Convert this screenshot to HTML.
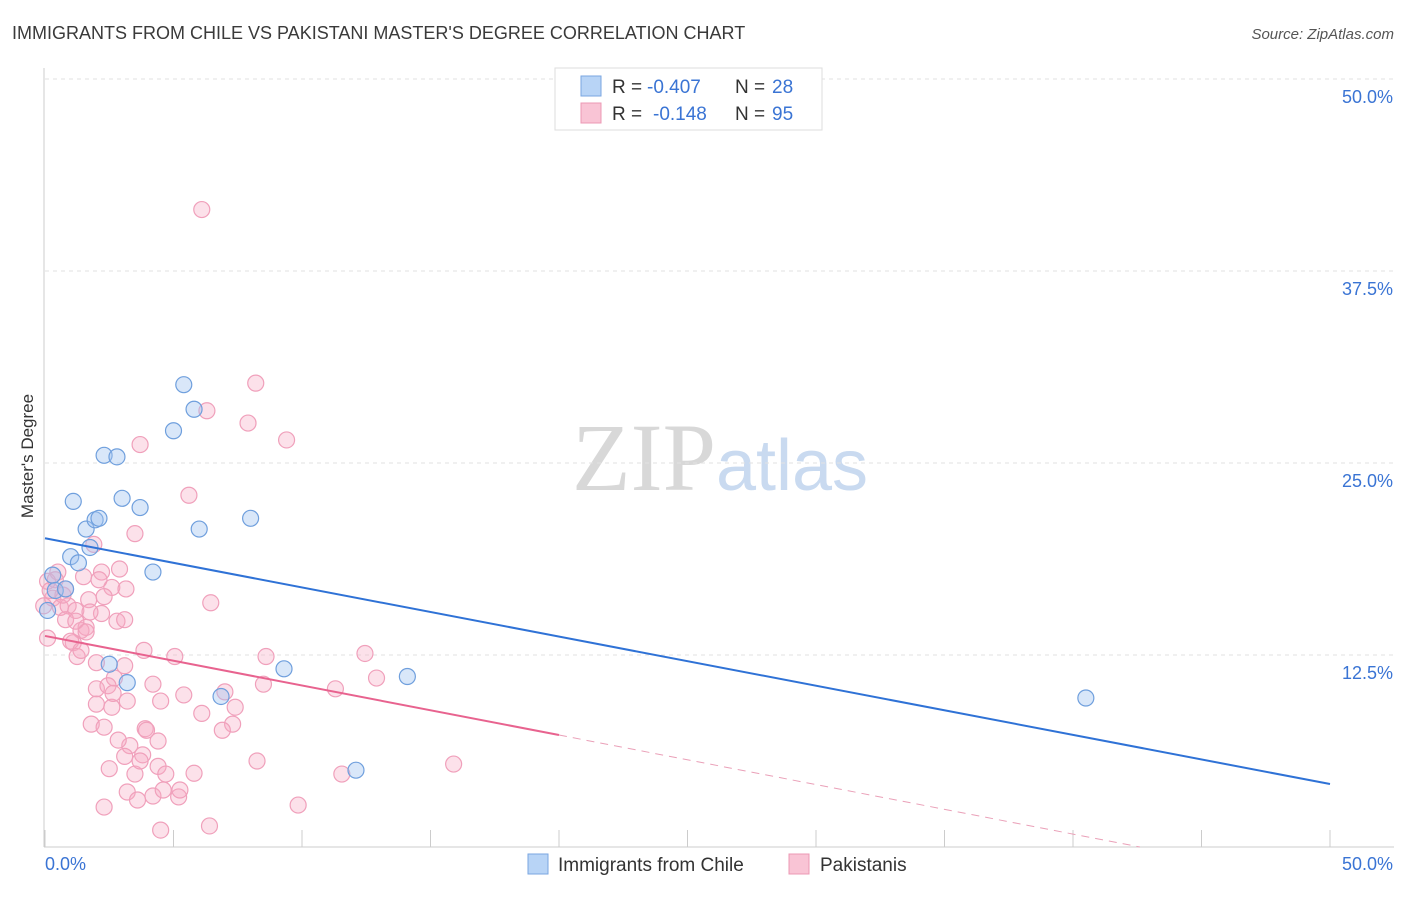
<!DOCTYPE html>
<html><head><meta charset="utf-8">
<style>
body{margin:0;background:#fff;font-family:"Liberation Sans",sans-serif;}
</style></head>
<body>
<svg id="chart" width="1406" height="892" xmlns="http://www.w3.org/2000/svg" style="font-family:'Liberation Sans',sans-serif">
<text x="12" y="39" font-size="18" fill="#3a3a3a">IMMIGRANTS FROM CHILE VS PAKISTANI MASTER'S DEGREE CORRELATION CHART</text>
<text x="1394" y="39" font-size="15" fill="#555" text-anchor="end" font-style="italic">Source: ZipAtlas.com</text>
<text x="720" y="490" font-size="96" text-anchor="middle" fill="#d8d8d8" font-family="Liberation Serif">ZIP<tspan fill="#c9daf0" font-family="Liberation Sans" font-size="72">atlas</tspan></text>
<g id="grid"></g>
<g id="axes"></g>
<g id="marks"></g>
<text transform="translate(33,456) rotate(-90)" font-size="17" fill="#333" text-anchor="middle">Master's Degree</text>
<g>
<rect x="555" y="68" width="267" height="62" fill="#fff" stroke="#ddd"/>
<rect x="581" y="76" width="20" height="20" fill="#b8d4f6" stroke="#7aa6e0"/>
<rect x="581" y="103" width="20" height="20" fill="#f9c4d5" stroke="#ec98b4"/>
<text x="612" y="93" font-size="19" fill="#333">R =</text>
<text x="647" y="93" font-size="19" fill="#3a74d4">-0.407</text>
<text x="735" y="93" font-size="19" fill="#333">N =</text>
<text x="772" y="93" font-size="19" fill="#3a74d4">28</text>
<text x="612" y="120" font-size="19" fill="#333">R =</text>
<text x="653" y="120" font-size="19" fill="#3a74d4">-0.148</text>
<text x="735" y="120" font-size="19" fill="#333">N =</text>
<text x="772" y="120" font-size="19" fill="#3a74d4">95</text>
</g>
<g>
<rect x="528" y="854" width="20" height="20" fill="#b8d4f6" stroke="#7aa6e0"/>
<text x="558" y="871" font-size="19" fill="#333">Immigrants from Chile</text>
<rect x="789" y="854" width="20" height="20" fill="#f9c4d5" stroke="#ec98b4"/>
<text x="820" y="871" font-size="19" fill="#333">Pakistanis</text>
</g>
</svg>
<script>
const yTicks=[12.5,25,37.5,50];
const yTickLabels=["12.5%","25.0%","37.5%","50.0%"];
const xTicks=[0,5,10,15,20,25,30,35,40,45,50];
const blueX=[5.4,5.8,5.0,2.3,2.8,1.1,3.0,3.7,1.6,1.95,2.1,6.0,8.0,1.0,1.75,1.3,4.2,0.3,0.4,0.1,0.8,2.5,3.2,6.85,9.3,14.1,40.5,12.1];
const blueY=[30.1,28.5,27.1,25.5,25.4,22.5,22.7,22.1,20.7,21.3,21.4,20.7,21.4,18.9,19.5,18.5,17.9,17.7,16.7,15.4,16.8,11.9,10.7,9.8,11.6,11.1,9.7,5.0];
const pinkX=[6.1,8.2,6.3,7.9,9.4,3.7,5.6,3.5,1.9,0.5,1.5,2.9,2.2,2.6,3.15,0.1,0.3,0.6,0.9,1.2,1.7,0.8,1.4,1.6,1.2,2.2,1.75,2.8,3.1,6.45,0.1,1.1,3.85,5.05,8.6,12.45,1.25,2.0,3.1,2.7,2.0,2.45,4.2,5.4,8.5,11.3,12.9,2.0,2.6,7.4,1.8,6.1,7.3,2.3,3.9,3.95,6.9,4.4,3.3,3.1,3.8,8.25,2.5,3.5,4.4,4.7,5.8,11.55,15.9,3.2,3.6,4.2,4.6,5.2,2.3,9.85,4.5,6.4,0.4,0.7,-0.05,0.8,0.2,1.0,1.6,2.3,2.1,1.4,3.2,2.65,5.25,7.0,2.85,4.5,3.7];
const pinkY=[41.5,30.2,28.4,27.6,26.5,26.2,22.9,20.4,19.7,17.9,17.6,18.1,17.9,16.9,16.8,17.3,16.2,15.6,15.7,15.4,16.1,14.8,14.1,14.3,14.7,15.2,15.3,14.7,14.8,15.9,13.6,13.3,12.8,12.4,12.4,12.6,12.4,12.0,11.8,11.0,10.3,10.5,10.6,9.9,10.6,10.3,11.0,9.3,9.1,9.1,8.0,8.7,8.0,7.8,7.7,7.6,7.6,6.9,6.6,5.9,6.0,5.6,5.1,4.75,5.25,4.75,4.8,4.75,5.4,3.58,3.06,3.32,3.71,3.26,2.6,2.73,1.1,1.37,17.4,16.4,15.7,16.8,16.7,13.4,14.0,16.3,17.4,12.8,9.5,10.0,3.71,10.1,6.96,9.5,5.6];
const blueLine=[20.1,4.1];
const pinkLine=[13.74,-0.3225];
const NS="http://www.w3.org/2000/svg";
const X=v=>45+v*25.7, Y=v=>847-v*15.36;
function mk(tag,attrs,parent){const e=document.createElementNS(NS,tag);for(const k in attrs)e.setAttribute(k,attrs[k]);parent.appendChild(e);return e;}
const grid=document.getElementById('grid'),axes=document.getElementById('axes'),marks=document.getElementById('marks');
yTicks.forEach((t,i)=>{
 const l=mk('line',{x1:45,x2:1394,y1:Y(t),y2:Y(t),stroke:'#e2e2e2','stroke-dasharray':'4,4'},grid);
 
 
 const tx=mk('text',{x:1393,y:Y(t)+24,'font-size':18,fill:'#3a74d4','text-anchor':'end'},axes);
 tx.textContent=yTickLabels[i];
 
 
});
const ax=mk('line',{x1:44,x2:44,y1:68,y2:847,stroke:'#ccc'},axes);


const bx=mk('line',{x1:44,x2:1394,y1:847,y2:847,stroke:'#ccc'},axes);


xTicks.forEach(t=>{
 const l=mk('line',{x1:X(t),x2:X(t),y1:830,y2:847,stroke:'#ccc'},axes);
 
 
});
const x0=mk('text',{x:45,y:870,'font-size':18,fill:'#3a74d4'},axes);x0.textContent='0.0%';


const x1=mk('text',{x:1393,y:870,'font-size':18,fill:'#3a74d4','text-anchor':'end'},axes);x1.textContent='50.0%';


pinkX.forEach((v,i)=>{
 const c=mk('circle',{cx:X(v),cy:Y(pinkY[i]),r:8,fill:'rgba(246,170,196,0.35)',stroke:'#f0a0bb','stroke-width':1.2},marks);
 
 
});
blueX.forEach((v,i)=>{
 const c=mk('circle',{cx:X(v),cy:Y(blueY[i]),r:8,fill:'rgba(160,196,240,0.4)',stroke:'#6f9fdd','stroke-width':1.2},marks);
 
 
});
const bl=mk('line',{x1:X(0),y1:Y(blueLine[0]),x2:X(50),y2:Y(blueLine[1]),stroke:'#2f72d6','stroke-width':2},marks);


const pe=20, pz=-pinkLine[0]/pinkLine[1];
const pl=mk('line',{x1:X(0),y1:Y(pinkLine[0]),x2:X(pe),y2:Y(pinkLine[0]+pinkLine[1]*pe),stroke:'#e8638f','stroke-width':2},marks);


const pd=mk('line',{x1:X(pe),y1:Y(pinkLine[0]+pinkLine[1]*pe),x2:X(pz),y2:Y(0),stroke:'#eaa0b8','stroke-width':1,'stroke-dasharray':'8,6'},marks);


</script>
</body></html>
